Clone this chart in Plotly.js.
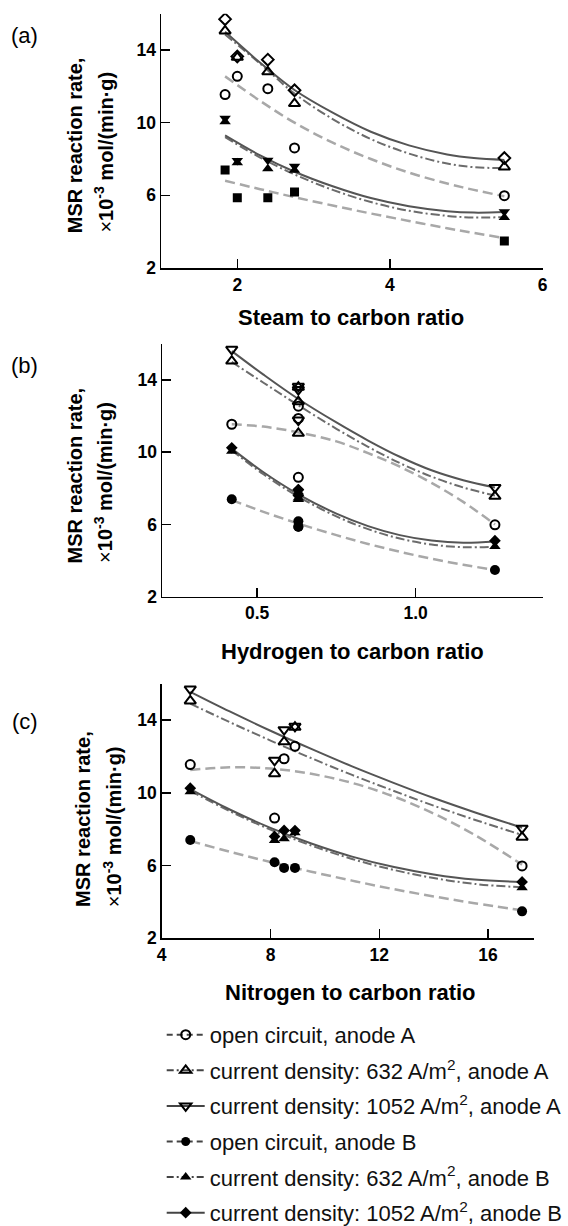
<!DOCTYPE html>
<html>
<head>
<meta charset="utf-8">
<script src="https://cdn.plot.ly/plotly-3.0.1.min.js"></script>
<style>html,body{margin:0;padding:0;background:#fff;}#chart{width:568px;height:1226px;}</style>
</head>
<body>
<div id="chart"></div>
<script>
// ---- measured data (same five experiments plotted against three ratios) ----
const steamToCarbon    = [1.84, 2.0, 2.4, 2.75, 5.5];
const hydrogenToCarbon = [0.42, 0.63, 0.63, 0.63, 1.25];
const nitrogenToCarbon = [5.05, 8.9, 8.5, 8.15, 17.25];

const rateOC_A     = [11.55, 12.55, 11.87, 8.61, 5.98];
const rate632_A    = [15.05, 13.6, 12.8, 11.05, 7.56];
const rate1052_A   = [15.7, 13.65, 13.47, 11.78, 8.05];
const rateOC_B     = [7.4, 5.87, 5.87, 6.18, 3.48];
const rate632_B    = [10.05, 7.8, 7.47, 7.38, 4.78];
const rate1052_B   = [10.25, 7.92, 7.93, 7.6, 5.1];

// ---- fitted trend curves ----
const fitSCx       = [1.84, 2.3, 2.75, 3.25, 3.75, 4.25, 4.75, 5.1, 5.5];
const fitSC_1052A  = [15.0, 13.3, 11.8, 10.55, 9.5, 8.75, 8.25, 8.05, 7.95];
const fitSC_632A   = [14.85, 13.25, 11.6, 10.2, 9.1, 8.3, 7.75, 7.55, 7.5];
const fitSC_OCA    = [12.55, 11.2, 10.0, 8.9, 8.0, 7.25, 6.65, 6.3, 5.95];
const fitSC_1052B  = [9.3, 8.2, 7.3, 6.5, 5.85, 5.4, 5.13, 5.05, 5.08];
const fitSC_632B   = [9.2, 8.08, 7.15, 6.3, 5.63, 5.15, 4.87, 4.78, 4.8];
const fitSC_OCB    = [6.8, 6.34, 5.9, 5.44, 5.0, 4.59, 4.19, 3.93, 3.65];

const fitHCx       = [0.42, 0.52, 0.63, 0.75, 0.85, 0.95, 1.05, 1.15, 1.25];
const fitHC_1052A  = [15.6, 14.3, 12.95, 11.65, 10.65, 9.75, 9.0, 8.45, 8.05];
const fitHC_632A   = [15.0, 13.85, 12.6, 11.3, 10.3, 9.4, 8.65, 8.05, 7.6];
const fitHC_OCA    = [11.55, 11.42, 11.1, 10.6, 9.95, 9.2, 8.3, 7.25, 6.0];
const fitHC_1052B  = [10.2, 8.89, 7.67, 6.6, 5.91, 5.41, 5.11, 4.99, 5.06];
const fitHC_632B   = [10.1, 8.78, 7.54, 6.45, 5.74, 5.22, 4.89, 4.74, 4.77];
const fitHC_OCB    = [7.35, 6.7, 6.05, 5.41, 4.92, 4.49, 4.1, 3.77, 3.48];

const fitNCx       = [5.05, 6.5, 8, 9.5, 11, 12.5, 14, 15.5, 17.25];
const fitNC_1052A  = [15.55, 14.47, 13.41, 12.41, 11.45, 10.56, 9.71, 8.93, 8.08];
const fitNC_632A   = [14.9, 13.88, 12.87, 11.9, 10.98, 10.12, 9.29, 8.52, 7.68];
const fitNC_OCA    = [11.25, 11.4, 11.33, 11.04, 10.54, 9.81, 8.86, 7.69, 6.05];
const fitNC_1052B  = [10.2, 9.08, 8.07, 7.21, 6.49, 5.93, 5.51, 5.23, 5.1];
const fitNC_632B   = [10.1, 8.99, 7.97, 7.1, 6.36, 5.77, 5.31, 4.99, 4.8];
const fitNC_OCB    = [7.35, 6.76, 6.19, 5.66, 5.17, 4.71, 4.3, 3.93, 3.54];

// ---- tick labels / texts ----
const yTicks = [2, 6, 10, 14];
const xTicksSC = [2, 4, 6];
const xTicksHC = [0.5, 1.0];
const xTicksNC = [4, 8, 12, 16];
const legendNames = [
  'open circuit, anode A',
  'current density: 632 A/m<sup>2</sup>, anode A',
  'current density: 1052 A/m<sup>2</sup>, anode A',
  'open circuit, anode B',
  'current density: 632 A/m<sup>2</sup>, anode B',
  'current density: 1052 A/m<sup>2</sup>, anode B'
];
const yTitleLine1 = '<b>MSR reaction rate,</b>';
const yTitleLine2 = '×<b>10<sup>-3</sup> mol/(min·g)</b>';

// ---- styles ----
const W = 568, H = 1226;
const FONT = 'Liberation Sans, Arial, sans-serif';
const solidLine  = {color: '#555555', width: 2, shape: 'spline'};
const dashDotLine= {color: '#6c6c6c', width: 2, dash: '9px,3px,2px,3px', shape: 'spline'};
const dashedLine = {color: '#a8a8a8', width: 2.5, dash: '10px,5px', shape: 'spline'};

const traces = [];
function fit(x, y, line, ax) {
  traces.push({type: 'scatter', mode: 'lines', x: x, y: y, line: line,
    xaxis: 'x' + ax, yaxis: 'y' + ax, showlegend: false, hoverinfo: 'skip'});
}
function pts(x, y, symbol, size, ax, open) {
  traces.push({type: 'scatter', mode: 'markers', x: x, y: y,
    marker: open ? {symbol: symbol, size: size, color: '#000', line: {color: '#000', width: 2}}
                 : {symbol: symbol, size: size, color: '#000', line: {width: 0}},
    xaxis: 'x' + ax, yaxis: 'y' + ax, showlegend: false});
}

// panel (a)
fit(fitSCx, fitSC_OCA, dashedLine, ''); fit(fitSCx, fitSC_OCB, dashedLine, '');
fit(fitSCx, fitSC_632A, dashDotLine, ''); fit(fitSCx, fitSC_632B, dashDotLine, '');
fit(fitSCx, fitSC_1052A, solidLine, ''); fit(fitSCx, fitSC_1052B, solidLine, '');
pts(steamToCarbon, rateOC_A, 'circle-open', 9, '', true);
pts(steamToCarbon, rate632_A, 'triangle-up-open', 10, '', true);
pts(steamToCarbon, rate1052_A, 'diamond-open', 9, '', true);
pts(steamToCarbon, rateOC_B, 'square', 9, '', false);
pts(steamToCarbon, rate632_B, 'triangle-up', 10, '', false);
pts(steamToCarbon, rate1052_B, 'triangle-down', 10, '', false);

// panel (b)
fit(fitHCx, fitHC_OCA, dashedLine, '2'); fit(fitHCx, fitHC_OCB, dashedLine, '2');
fit(fitHCx, fitHC_632A, dashDotLine, '2'); fit(fitHCx, fitHC_632B, dashDotLine, '2');
fit(fitHCx, fitHC_1052A, solidLine, '2'); fit(fitHCx, fitHC_1052B, solidLine, '2');
pts(hydrogenToCarbon, rateOC_A, 'circle-open', 9, '2', true);
pts(hydrogenToCarbon, rate632_A, 'triangle-up-open', 10, '2', true);
pts(hydrogenToCarbon, rate1052_A, 'triangle-down-open', 10, '2', true);
pts(hydrogenToCarbon, rateOC_B, 'circle', 10, '2', false);
pts(hydrogenToCarbon, rate632_B, 'triangle-up', 10, '2', false);
pts(hydrogenToCarbon, rate1052_B, 'diamond', 9, '2', false);

// panel (c)
fit(fitNCx, fitNC_OCA, dashedLine, '3'); fit(fitNCx, fitNC_OCB, dashedLine, '3');
fit(fitNCx, fitNC_632A, dashDotLine, '3'); fit(fitNCx, fitNC_632B, dashDotLine, '3');
fit(fitNCx, fitNC_1052A, solidLine, '3'); fit(fitNCx, fitNC_1052B, solidLine, '3');
pts(nitrogenToCarbon, rateOC_A, 'circle-open', 9, '3', true);
pts(nitrogenToCarbon, rate632_A, 'triangle-up-open', 10, '3', true);
pts(nitrogenToCarbon, rate1052_A, 'triangle-down-open', 10, '3', true);
pts(nitrogenToCarbon, rateOC_B, 'circle', 10, '3', false);
pts(nitrogenToCarbon, rate632_B, 'triangle-up', 10, '3', false);
pts(nitrogenToCarbon, rate1052_B, 'diamond', 9, '3', false);

// legend entries
const legSym = ['circle-open', 'triangle-up-open', 'triangle-down-open', 'circle', 'triangle-up', 'diamond'];
const legSize = [9, 10, 10, 9, 10, 9];
const legDash = ['6px,4px', '7px,3px,2px,3px', 'solid', '6px,4px', '7px,3px,2px,3px', 'solid'];
legendNames.forEach(function (n, i) {
  const open = legSym[i].indexOf('open') >= 0;
  traces.push({type: 'scatter', mode: 'lines+markers', x: [null], y: [null], name: n,
    legendgroup: 'g' + i, xaxis: 'x3', yaxis: 'y3',
    line: {color: '#444', width: 2, dash: legDash[i]},
    marker: open ? {symbol: legSym[i], size: legSize[i], color: '#000', line: {color: '#000', width: 2}}
                 : {symbol: legSym[i], size: legSize[i], color: '#000', line: {width: 0}}});
});

function px(v) { return v / W; }
function py(v) { return 1 - v / H; }

const tickFont = {family: FONT, size: 17.5, color: '#000', weight: 'bold'};
function xAx(range, dom, ticks, anchor, fmt) {
  return {range: range, domain: dom, anchor: anchor, tickmode: 'array', tickvals: ticks,
    tickformat: fmt || '', showgrid: false, zeroline: false, showline: true,
    linecolor: '#000', linewidth: 1.5, ticks: 'inside', ticklen: 9, tickwidth: 1.5,
    tickcolor: '#000', tickfont: tickFont, fixedrange: true};
}
function yAx(dom, anchor) {
  return {range: [2, 16], domain: dom, anchor: anchor, tickmode: 'array', tickvals: yTicks,
    showgrid: false, zeroline: false, showline: true, linecolor: '#000', linewidth: 1.5,
    ticks: 'inside', ticklen: 9, tickwidth: 1.5, tickcolor: '#000', tickfont: tickFont,
    ticklabelstandoff: 0, fixedrange: true};
}

function ann(text, x, y, size, angle) {
  return {text: text, xref: 'paper', yref: 'paper', x: px(x), y: py(y), showarrow: false,
    xanchor: 'center', yanchor: 'middle', textangle: angle || 0,
    font: {family: FONT, size: size, color: '#000'}};
}

const layout = {
  width: W, height: H,
  margin: {l: 0, r: 0, t: 0, b: 0, autoexpand: false},
  paper_bgcolor: '#fff', plot_bgcolor: 'rgba(0,0,0,0)',
  font: {family: FONT, color: '#000'},
  xaxis:  xAx([1, 6], [px(161), px(542.5)], xTicksSC, 'y'),
  yaxis:  yAx([py(268), py(13.7)], 'x'),
  xaxis2: xAx([0.2, 1.4], [px(162), px(542.5)], xTicksHC, 'y2', '.1f'),
  yaxis2: yAx([py(596.7), py(343.9)], 'x2'),
  xaxis3: xAx([4, 17.67], [px(161.7), px(533.5)], xTicksNC, 'y3'),
  yaxis3: yAx([py(938.3), py(683.6)], 'x3'),
  showlegend: true,
  legend: {x: px(161.7), xanchor: 'left', y: py(1013.9), yanchor: 'top',
    bgcolor: 'rgba(0,0,0,0)', borderwidth: 0, font: {family: FONT, size: 22, color: '#111'},
    itemwidth: 38, tracegroupgap: 4, traceorder: 'grouped'},
  annotations: [
    ann('(a)', 24, 36, 22), ann('(b)', 24, 366, 22), ann('(c)', 25, 721, 22),
    ann(yTitleLine1, 75, 145.2, 20, -90), ann(yTitleLine2, 104, 152.6, 20, -90),
    ann(yTitleLine1, 75, 475.5, 20, -90), ann(yTitleLine2, 104, 482.9, 20, -90),
    ann(yTitleLine1, 83, 818.9, 20, -90), ann(yTitleLine2, 112, 826.3, 20, -90),
    ann('<b>Steam to carbon ratio</b>', 351, 318, 22),
    ann('<b>Hydrogen to carbon ratio</b>', 352, 652, 22),
    ann('<b>Nitrogen to carbon ratio</b>', 350, 992, 22)
  ]
};

Plotly.newPlot('chart', traces, layout, {staticPlot: true, displayModeBar: false});
</script>
</body>
</html>
